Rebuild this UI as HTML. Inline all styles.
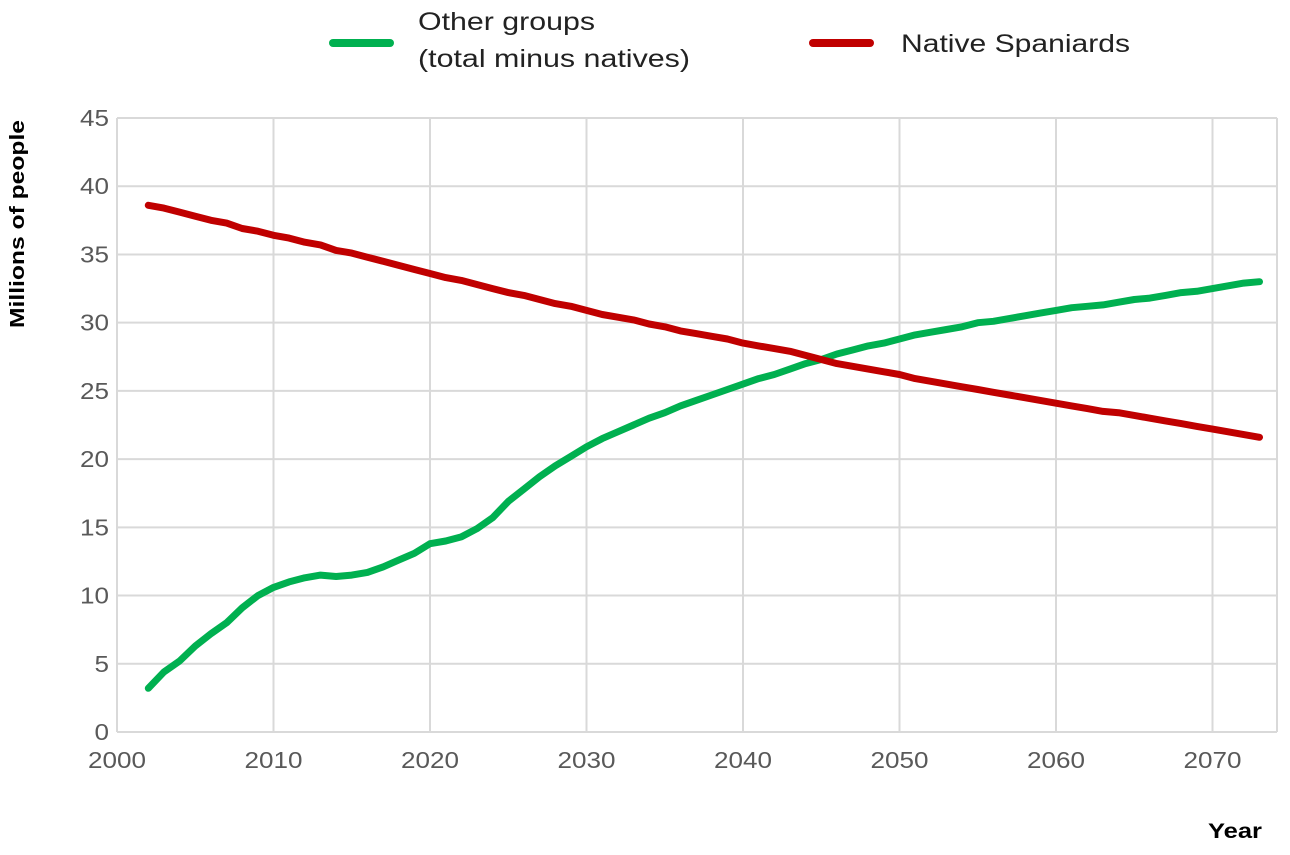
<!DOCTYPE html>
<html><head><meta charset="utf-8"><style>
html,body{margin:0;padding:0;background:#fff;}
svg text{font-family:"Liberation Sans",Arial,sans-serif;}
</style></head><body>
<svg id="chart" width="1290" height="850" xmlns="http://www.w3.org/2000/svg">
<g id="grid"></g>
<g id="ticks"></g>
<g id="series"></g>
<text x="24" y="224" transform="rotate(-90 24 224)" text-anchor="middle" font-size="20" font-weight="bold" fill="#000" textLength="208" lengthAdjust="spacingAndGlyphs">Millions of people</text>
<text x="1262" y="838" text-anchor="end" font-size="21" font-weight="bold" fill="#000" textLength="54" lengthAdjust="spacingAndGlyphs">Year</text>
<g>
<g>
<line x1="333" y1="43" x2="390" y2="43" stroke="#00b050" stroke-width="8" stroke-linecap="round"/>
<text x="418" y="30" font-size="25" fill="#222" textLength="177" lengthAdjust="spacingAndGlyphs">Other groups</text>
<text x="418" y="67" font-size="25" fill="#222" textLength="272" lengthAdjust="spacingAndGlyphs">(total minus natives)</text>
</g>
<g>
<line x1="813" y1="43" x2="870" y2="43" stroke="#c00000" stroke-width="8" stroke-linecap="round"/>
<text x="901" y="52" font-size="25" fill="#222" textLength="229" lengthAdjust="spacingAndGlyphs">Native Spaniards</text>
</g>
</g>
</svg>
<script>
const years = [];
for (let y = 2002; y <= 2073; y++) years.push(y);
const otherGroups = [3.2,4.4,5.2,6.3,7.2,8.0,9.1,10.0,10.6,11.0,11.3,11.5,11.4,11.5,11.7,12.1,12.6,13.1,13.8,14.0,14.3,14.9,15.7,16.9,17.8,18.7,19.5,20.2,20.9,21.5,22.0,22.5,23.0,23.4,23.9,24.3,24.7,25.1,25.5,25.9,26.2,26.6,27.0,27.3,27.7,28.0,28.3,28.5,28.8,29.1,29.3,29.5,29.7,30.0,30.1,30.3,30.5,30.7,30.9,31.1,31.2,31.3,31.5,31.7,31.8,32.0,32.2,32.3,32.5,32.7,32.9,33.0];
const nativeSpaniards = [38.6,38.4,38.1,37.8,37.5,37.3,36.9,36.7,36.4,36.2,35.9,35.7,35.3,35.1,34.8,34.5,34.2,33.9,33.6,33.3,33.1,32.8,32.5,32.2,32.0,31.7,31.4,31.2,30.9,30.6,30.4,30.2,29.9,29.7,29.4,29.2,29.0,28.8,28.5,28.3,28.1,27.9,27.6,27.3,27.0,26.8,26.6,26.4,26.2,25.9,25.7,25.5,25.3,25.1,24.9,24.7,24.5,24.3,24.1,23.9,23.7,23.5,23.4,23.2,23.0,22.8,22.6,22.4,22.2,22.0,21.8,21.6];
const yTicks = [0,5,10,15,20,25,30,35,40,45];
const xTicks = [2000,2010,2020,2030,2040,2050,2060,2070];

const X0=117, PXY=15.65, Y0=732, PXV=(732-118)/45, RIGHT=1277;
const xs = v => X0 + (v-2000)*PXY;
const ys = v => Y0 - v*PXV;
const NS='http://www.w3.org/2000/svg';
const grid=document.getElementById('grid'), ticks=document.getElementById('ticks'), series=document.getElementById('series');
function mk(t,a){const e=document.createElementNS(NS,t);for(const k in a)e.setAttribute(k,a[k]);return e;}

yTicks.forEach(v=>{
  const l=mk('line',{x1:X0,x2:RIGHT,y1:ys(v),y2:ys(v),stroke:'#d9d9d9','stroke-width':2});
  
  
  grid.appendChild(l);
  const s=String(v);
  const t=mk('text',{x:X0-8,y:ys(v)+8,'text-anchor':'end','font-size':23,fill:'#595959',textLength:s.length*14.5,lengthAdjust:'spacingAndGlyphs'});
  t.textContent=s;
  
  
  ticks.appendChild(t);
});
xTicks.forEach(v=>{
  const l=mk('line',{x1:xs(v),x2:xs(v),y1:ys(45),y2:Y0,stroke:'#d9d9d9','stroke-width':2});
  
  
  grid.appendChild(l);
  const t=mk('text',{x:xs(v)-29,y:Y0+36,'font-size':23,fill:'#595959',textLength:58,lengthAdjust:'spacingAndGlyphs'});
  t.textContent=v;
  
  
  ticks.appendChild(t);
});
const rb=mk('line',{x1:RIGHT,x2:RIGHT,y1:ys(45),y2:Y0,stroke:'#d9d9d9','stroke-width':2});


grid.appendChild(rb);

function draw(vals,color,name){
  const d=vals.map((v,i)=>(i?'L':'M')+xs(years[i]).toFixed(1)+','+ys(v).toFixed(1)).join(' ');
  const p=mk('path',{d:d,fill:'none',stroke:color,'stroke-width':7,'stroke-linejoin':'round','stroke-linecap':'round'});
  
  
  series.appendChild(p);
}
draw(otherGroups,'#00b050','other-groups-line');
draw(nativeSpaniards,'#c00000','native-spaniards-line');
</script>
</body></html>
